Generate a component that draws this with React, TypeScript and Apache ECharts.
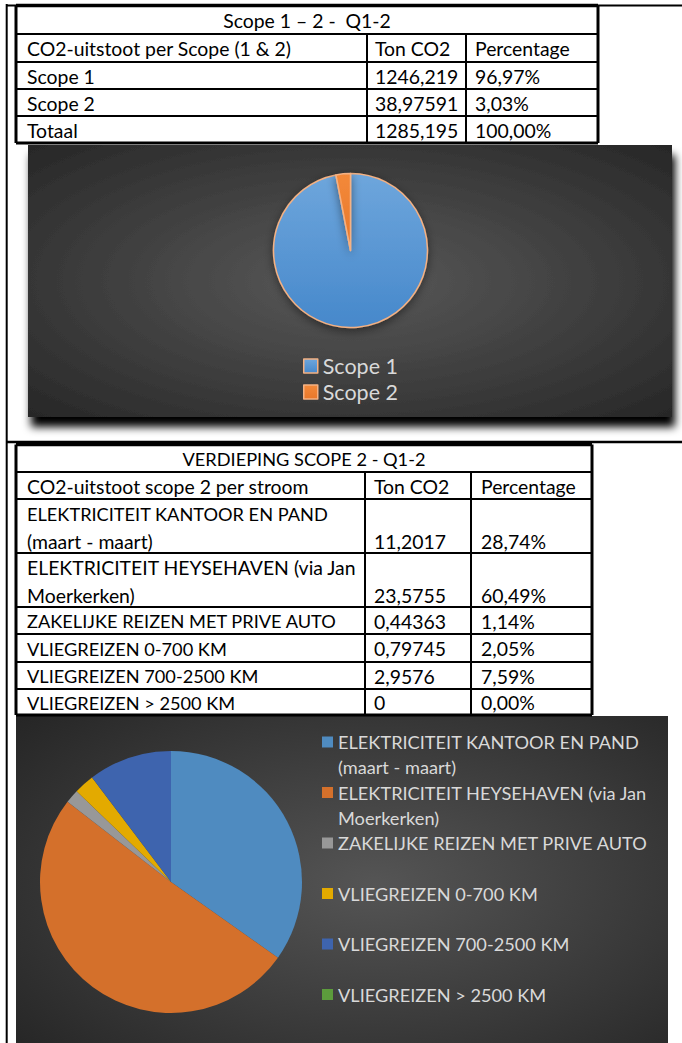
import React, { useEffect, useRef } from "react";
import * as echarts from "echarts";

// ---------- data ----------
const scopeTitle = "Scope 1 – 2 -  Q1-2";
const scopeHeader = ["CO2-uitstoot per Scope (1 & 2)", "Ton CO2", "Percentage"];
const scopeNames = ["Scope 1", "Scope 2"];
const scopeTonText = ["1246,219", "38,97591"];
const scopePctText = ["96,97%", "3,03%"];
const scopeTotalRow = ["Totaal", "1285,195", "100,00%"];
const scopeValues = [1246.219, 38.97591];

const streamTitle = "VERDIEPING SCOPE 2 - Q1-2";
const streamHeader = ["CO2-uitstoot scope 2 per stroom", "Ton CO2", "Percentage"];
const streamNames = [
  "ELEKTRICITEIT KANTOOR EN PAND (maart - maart)",
  "ELEKTRICITEIT HEYSEHAVEN (via Jan Moerkerken)",
  "ZAKELIJKE REIZEN MET PRIVE AUTO",
  "VLIEGREIZEN 0-700 KM",
  "VLIEGREIZEN 700-2500 KM",
  "VLIEGREIZEN > 2500 KM",
];
const streamLines = [
  ["ELEKTRICITEIT KANTOOR EN PAND", "(maart - maart)"],
  ["ELEKTRICITEIT HEYSEHAVEN (via Jan", "Moerkerken)"],
  ["ZAKELIJKE REIZEN MET PRIVE AUTO"],
  ["VLIEGREIZEN 0-700 KM"],
  ["VLIEGREIZEN 700-2500 KM"],
  ["VLIEGREIZEN > 2500 KM"],
];
const streamTonText = ["11,2017", "23,5755", "0,44363", "0,79745", "2,9576", "0"];
const streamPctText = ["28,74%", "60,49%", "1,14%", "2,05%", "7,59%", "0,00%"];
// slice shares as drawn in the pie (percent)
const streamPieShare = [34.8, 50.7, 1.7, 2.5, 10.3, 0];

// ---------- styles / layout ----------
const FONT = "Lato, 'Open Sans', sans-serif";
const fsFor = (t: string) => (/[a-z]/.test(t) || !/[A-Z]/.test(t) ? 19.4 : 18.2);
const streamColors = ["#4F8BC0", "#D4702B", "#989898", "#E3AA00", "#3E64AE", "#5C9C3C"];
const scopeColors = [
  new echarts.graphic.LinearGradient(0, 0, 0, 1, [
    { offset: 0, color: "#6EA6DC" },
    { offset: 1, color: "#4688CB" },
  ]),
  new echarts.graphic.LinearGradient(0, 0, 0, 1, [
    { offset: 0, color: "#F3893A" },
    { offset: 1, color: "#E8772A" },
  ]),
];

const T1 = { cols: [16, 367, 466, 598], rows: [5.5, 34, 62, 89, 116, 143], pad: [11, 8, 9] };
const T2 = {
  cols: [16, 365, 471, 592],
  rows: [444.5, 472, 499, 553, 607, 634, 662, 689, 715],
  pad: [11, 9, 10],
};

function buildGraphics() {
  const g: any[] = [];
  const line = (x1: number, y1: number, x2: number, y2: number, w: number) =>
    g.push({ type: "line", silent: true, z: 10, shape: { x1, y1, x2, y2 }, style: { stroke: "#000", lineWidth: w } });
  const text = (t: string, x: number, y: number, align = "left") =>
    g.push({
      type: "text",
      silent: true,
      z: 10,
      x,
      y: y + 0.5,
      style: { text: t, fill: "#000", fontSize: fsFor(t), fontFamily: FONT, align, verticalAlign: "middle" },
    });

  // dark chart panels
  g.push({
    type: "rect",
    silent: true,
    z: 0,
    shape: { x: 28, y: 145, width: 644, height: 272 },
    style: {
      fill: { type: "radial", x: 0.5, y: 0.5, r: 0.72, colorStops: [{ offset: 0, color: "#5A5A5A" }, { offset: 1, color: "#262626" }] },
      shadowBlur: 8,
      shadowOffsetX: 3,
      shadowOffsetY: 10,
      shadowColor: "#000",
    },
  });
  g.push({
    type: "rect",
    silent: true,
    z: 0,
    shape: { x: 16, y: 716, width: 652, height: 350 },
    style: {
      fill: { type: "radial", x: 0.55, y: 0.48, r: 0.72, colorStops: [{ offset: 0, color: "#555555" }, { offset: 1, color: "#262626" }] },
    },
  });

  // page rules
  line(6.7, 4, 6.7, 1043, 2);
  line(6, 5.5, 682, 5.5, 2);
  line(6, 442, 682, 442, 2.5);

  const drawTable = (T: any, mergedRows: number) => {
    const [x0, , , x3] = T.cols;
    const r = T.rows;
    line(x0, r[0], x3, r[0], 3.5);
    line(x0, r[r.length - 1], x3, r[r.length - 1], 3);
    line(x0, r[0], x0, r[r.length - 1], 3);
    line(x3, r[0], x3, r[r.length - 1], 3);
    for (let i = 1; i < r.length - 1; i++) line(x0, r[i], x3, r[i], 2);
    line(T.cols[1], r[mergedRows], T.cols[1], r[r.length - 1], 2);
    line(T.cols[2], r[mergedRows], T.cols[2], r[r.length - 1], 2);
  };
  drawTable(T1, 1);
  drawTable(T2, 1);

  const cx = (T: any, c: number) => T.cols[c] + T.pad[c];
  const mid = (T: any, i: number) => (T.rows[i] + T.rows[i + 1]) / 2;

  text(scopeTitle, (T1.cols[0] + T1.cols[3]) / 2, mid(T1, 0), "center");
  scopeHeader.forEach((h, c) => text(h, cx(T1, c), mid(T1, 1)));
  scopeNames.forEach((n, i) => {
    text(n, cx(T1, 0), mid(T1, 2 + i));
    text(scopeTonText[i], cx(T1, 1), mid(T1, 2 + i));
    text(scopePctText[i], cx(T1, 2), mid(T1, 2 + i));
  });
  scopeTotalRow.forEach((t, c) => text(t, cx(T1, c), mid(T1, 4)));

  text(streamTitle, (T2.cols[0] + T2.cols[3]) / 2, mid(T2, 0), "center");
  streamHeader.forEach((h, c) => text(h, cx(T2, c), mid(T2, 1)));
  streamLines.forEach((lines, i) => {
    const top = T2.rows[2 + i];
    const bottom = T2.rows[3 + i];
    if (lines.length === 1) {
      const y = (top + bottom) / 2;
      text(lines[0], cx(T2, 0), y);
      text(streamTonText[i], cx(T2, 1), y);
      text(streamPctText[i], cx(T2, 2), y);
    } else {
      text(lines[0], cx(T2, 0), top + 14);
      text(lines[1], cx(T2, 0), top + 41.5);
      text(streamTonText[i], cx(T2, 1), top + 41.5);
      text(streamPctText[i], cx(T2, 2), top + 41.5);
    }
  });
  return g;
}

function buildOption() {
  const legend2 = streamNames.map((name, i) => {
    const lines = streamLines[i];
    const two = lines.length > 1;
    const iconY = 742 + i * 50.5;
    // a leading blank line keeps the first text line level with the icon
    const shown = two ? [" ", ...lines] : lines;
    return {
      orient: "vertical",
      left: 322,
      top: iconY - (two ? 37.5 : 12.5),
      padding: 0,
      itemWidth: 11,
      itemHeight: 11,
      itemGap: 0,
      icon: "rect",
      selectedMode: false,
      data: [name],
      formatter: () => shown.join("\n"),
      itemStyle: { borderWidth: 0, shadowBlur: 0 },
      textStyle: {
        color: "#D9D9D9",
        fontFamily: FONT,
        fontSize: 18.2,
        lineHeight: 25,
      },
    };
  });

  return {
    animation: false,
    graphic: buildGraphics(),
    legend: [
      {
        orient: "vertical",
        left: 303,
        top: 353,
        padding: 0,
        itemWidth: 14,
        itemHeight: 14,
        itemGap: 0,
        icon: "rect",
        selectedMode: false,
        data: scopeNames,
        itemStyle: { shadowBlur: 0, borderColor: "#F4B183", borderWidth: 1.5 },
        textStyle: { color: "#D9D9D9", fontFamily: FONT, fontSize: 21.5, lineHeight: 26 },
      },
      ...legend2,
    ],
    series: [
      {
        type: "pie",
        silent: true,
        center: [350.5, 250.5],
        radius: 77,
        startAngle: 90,
        clockwise: true,
        label: { show: false },
        labelLine: { show: false },
        itemStyle: {
          borderColor: "#F4B183",
          borderWidth: 1.5,
          shadowBlur: 10,
          shadowOffsetY: 3,
          shadowColor: "rgba(0,0,0,0.45)",
        },
        data: scopeNames.map((n, i) => ({ name: n, value: scopeValues[i], itemStyle: { color: scopeColors[i] } })),
      },
      {
        type: "pie",
        silent: true,
        center: [171, 882],
        radius: 131,
        startAngle: 90,
        clockwise: true,
        label: { show: false },
        labelLine: { show: false },
        itemStyle: { borderWidth: 0 },
        data: streamNames.map((n, i) => ({ name: n, value: streamPieShare[i], itemStyle: { color: streamColors[i] } })),
      },
    ],
  };
}

export default function App() {
  const ref = useRef<HTMLDivElement>(null);
  useEffect(() => {
    const chart = echarts.init(ref.current!, undefined, { renderer: "svg" });
    chart.setOption(buildOption() as any);
    return () => chart.dispose();
  }, []);
  return (
    <div
      ref={ref}
      style={{ position: "fixed", left: 0, top: 0, width: 682, height: 1043, background: "#fff" }}
    />
  );
}
